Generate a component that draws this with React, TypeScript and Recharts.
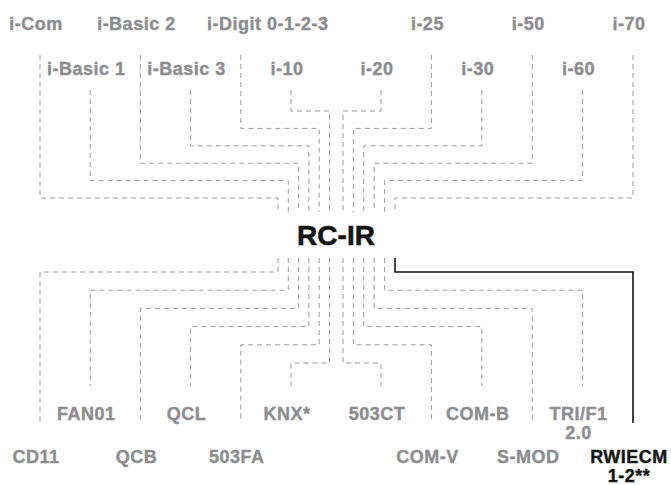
import React from 'react';
import { ComposedChart, Line, Scatter, XAxis, YAxis } from 'recharts';

// ---- data ----
const hub = ['RC-IR'];
const inputs = [
  'i-Com', 'i-Basic 1', 'i-Basic 2', 'i-Basic 3', 'i-Digit 0-1-2-3', 'i-10',
  'i-20', 'i-25', 'i-30', 'i-50', 'i-60', 'i-70',
];
const outputs = [
  'CD11', 'FAN01', 'QCB', 'QCL', '503FA', 'KNX*',
  '503CT', 'COM-V', 'COM-B', 'S-MOD', 'TRI/F1\n2.0', 'RWIECM\n1-2**',
];
const highlighted = ['RWIECM\n1-2**'];

// ---- layout (styles / geometry, not data) ----
const W = 671;
const H = 485;
const GRAY_TEXT = '#8d8d90';
const GRAY_LINE = '#9b9b9b';
const DARK = '#151515';
const FONT = '"Liberation Sans", Arial, sans-serif';
const half = inputs.length / 2;

const branchX = (k: number) => (k < half ? 40 + 50.2 * k : 381 + 50.4 * (k - half));
const laneX = (k: number) => (k < half ? 278 + 10.3 * k : 343 + 10.4 * (k - half));
const depth = (k: number) => (k < half ? k : inputs.length - 1 - k);
const labelShift: Record<string, number> = { 'i-Digit 0-1-2-3': 31 };

const HUB_TOP = 212;
const HUB_BOTTOM = 258;

const topPaths = inputs.map((name, k) => {
  const d = depth(k);
  const start = d % 2 === 0 ? 55 : 90;
  const level = 198 - 17.4 * d;
  return {
    name,
    points: [
      { x: branchX(k), y: start },
      { x: branchX(k), y: level },
      { x: laneX(k), y: level },
      { x: laneX(k), y: HUB_TOP },
    ],
  };
});

const bottomPaths = outputs.map((name, k) => {
  const d = depth(k);
  const end = d % 2 === 0 ? 423 : 386;
  const level = 272 + 18.2 * d;
  return {
    name,
    points: [
      { x: laneX(k), y: HUB_BOTTOM },
      { x: laneX(k), y: level },
      { x: branchX(k), y: level },
      { x: branchX(k), y: end },
    ],
  };
});

const topLabels = inputs.map((name, k) => ({
  name,
  x: branchX(k) - 4 + (labelShift[name] || 0),
  y: depth(k) % 2 === 0 ? 30 : 75,
}));
const bottomLabels = outputs.map((name, k) => ({
  name,
  x: branchX(k) - 4 + (labelShift[name] || 0),
  y: depth(k) % 2 === 0 ? 463 : 420,
  dark: highlighted.includes(name),
}));
const hubLabel = hub.map((name) => ({ name, x: 336, y: 245 }));

const makeLabel = (size: number, forceDark: boolean) => (props: any) => {
  const { cx, cy, payload } = props;
  if (cx == null || cy == null) return null;
  const dark = forceDark || payload.dark;
  const color = dark ? DARK : GRAY_TEXT;
  const lines = String(payload.name).split('\n');
  return (
    <text
      x={cx}
      y={cy}
      textAnchor="middle"
      fill={color}
      stroke={color}
      strokeWidth={size > 20 ? 0.6 : 0.4}
      fontSize={size}
      fontWeight={700}
      fontFamily={FONT}
      letterSpacing={size > 20 ? 0 : 0.5}
    >
      {lines.map((l, i) => (
        <tspan key={i} x={cx} dy={i === 0 ? 0 : 19}>
          {l}
        </tspan>
      ))}
    </text>
  );
};

export default function App() {
  return (
    <div style={{ position: 'absolute', left: 0, top: 0, width: W, height: H, background: '#fff' }}>
      <ComposedChart width={W} height={H} margin={{ top: 0, right: 0, bottom: 0, left: 0 }}>
        <XAxis type="number" dataKey="x" domain={[0, W]} allowDataOverflow hide />
        <YAxis type="number" dataKey="y" domain={[0, H]} reversed allowDataOverflow hide />
        {topPaths.map((p) => (
          <Line
            key={'t-' + p.name}
            data={p.points}
            dataKey="y"
            type="linear"
            stroke={GRAY_LINE}
            strokeWidth={1}
            strokeDasharray="5 4"
            dot={false}
            activeDot={false}
            isAnimationActive={false}
          />
        ))}
        {bottomPaths.map((p) => {
          const hi = highlighted.includes(p.name);
          return (
            <Line
              key={'b-' + p.name}
              data={p.points}
              dataKey="y"
              type="linear"
              stroke={hi ? DARK : GRAY_LINE}
              strokeWidth={hi ? 1.6 : 1}
              strokeDasharray={hi ? undefined : '5 4'}
              dot={false}
              activeDot={false}
              isAnimationActive={false}
            />
          );
        })}
        <Scatter data={topLabels} dataKey="y" shape={makeLabel(18, false)} isAnimationActive={false} />
        <Scatter data={bottomLabels} dataKey="y" shape={makeLabel(18, false)} isAnimationActive={false} />
        <Scatter data={hubLabel} dataKey="y" shape={makeLabel(28, true)} isAnimationActive={false} />
      </ComposedChart>
    </div>
  );
}
